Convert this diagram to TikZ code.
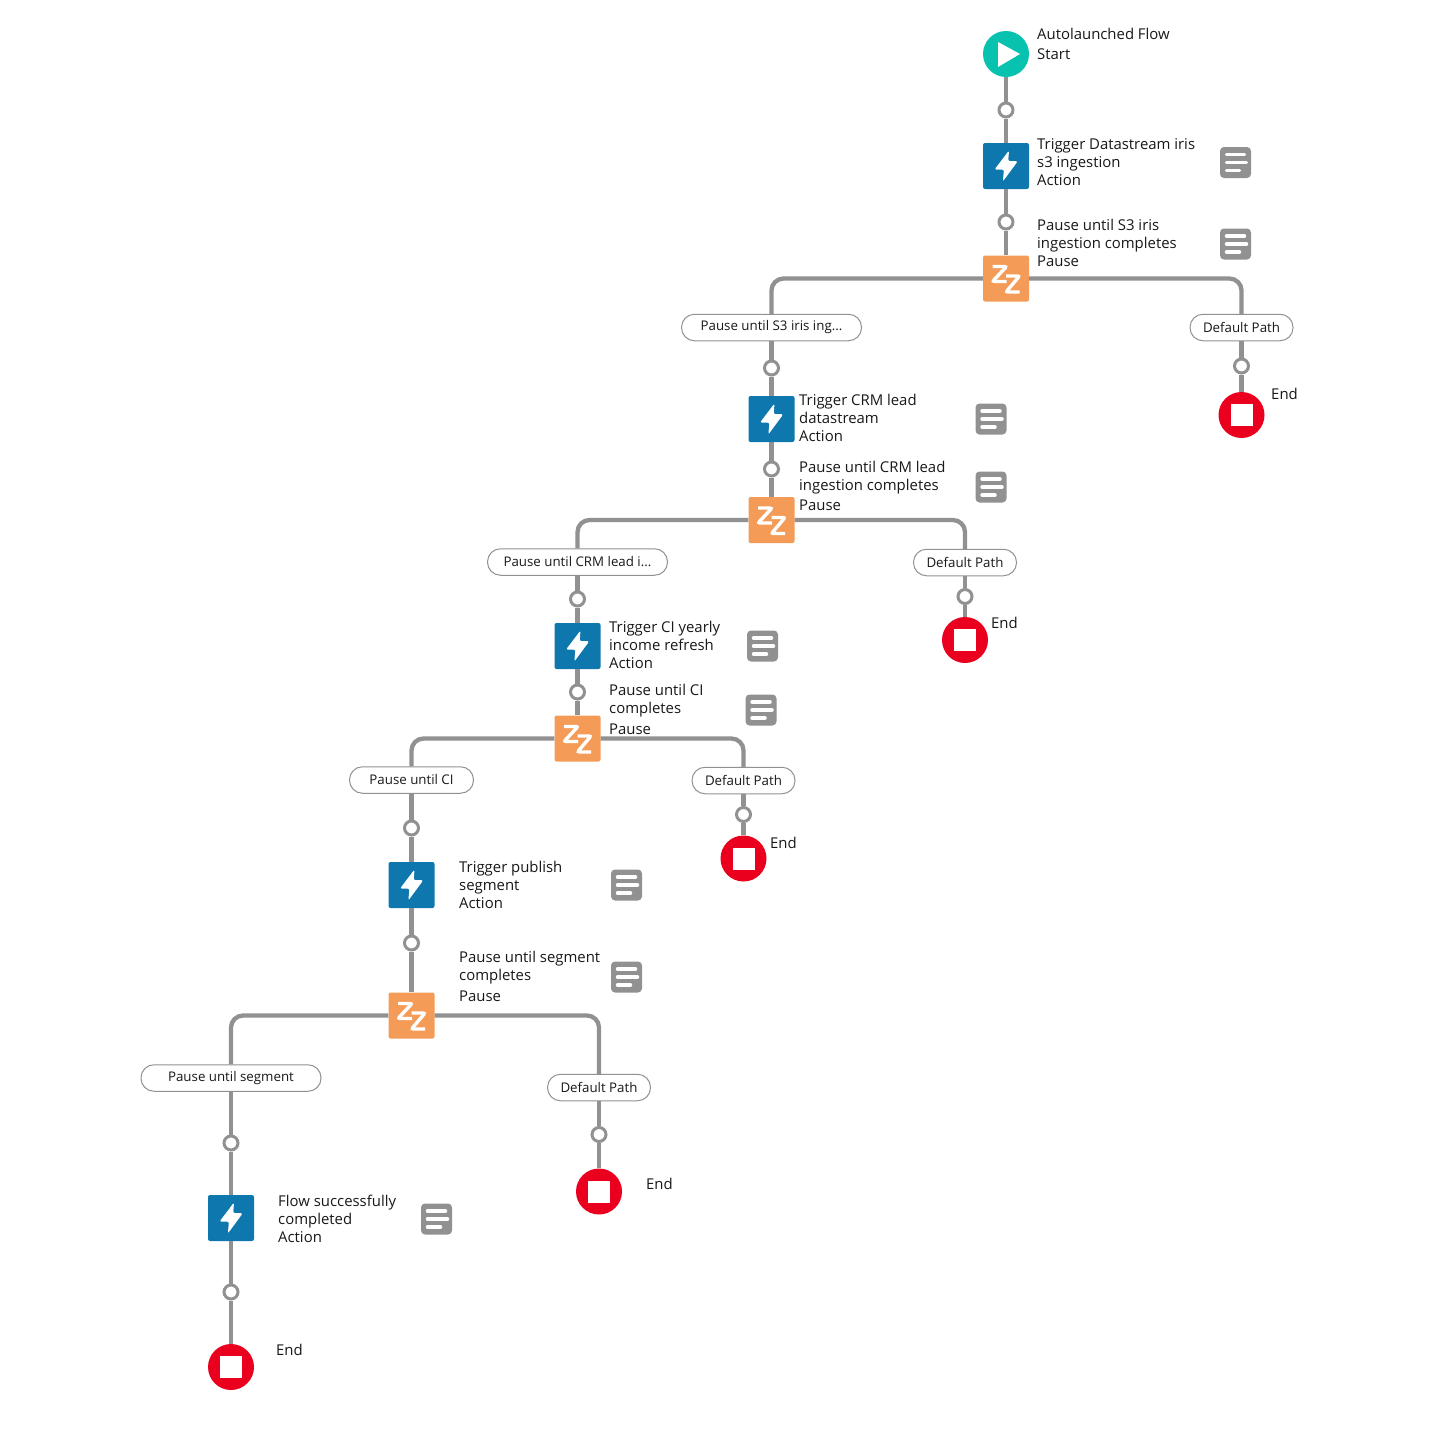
\documentclass[tikz,border=0pt]{standalone}
\usepackage{fontspec}
\setmainfont{Open Sans}
\usepackage{xcolor}
\definecolor{flowline}{HTML}{919191}
\definecolor{flowteal}{HTML}{06C2AE}
\definecolor{flowblue}{HTML}{0E78AE}
\definecolor{floworange}{HTML}{F59B58}
\definecolor{flowred}{HTML}{EA001E}
\definecolor{flowtext}{HTML}{181818}
\tikzset{
    link/.style={line width=4.3pt, draw=flowline}, % all the grey connectors
    elbow/.style={link, rounded corners=12pt, to path={-| (\tikztotarget)}},
    addpoint/.style={circle, draw=flowline, line width=3pt, fill=white, inner sep=0pt, minimum size=14pt},
    startdot/.style={circle, fill=flowteal, inner sep=0pt, minimum size=46pt, path picture={
        \fill[white, shift={(path picture bounding box.center)}] (-8,-12) -- (14,0) -- (-8,13) -- cycle;}},
    enddot/.style={circle, fill=flowred, inner sep=0pt, minimum size=46pt, path picture={
        \fill[white, shift={(path picture bounding box.center)}] (-11,-11) rectangle (11,11);}},
    actionbox/.style={rectangle, rounded corners=2pt, fill=flowblue, inner sep=0pt, minimum size=46pt, path picture={
        \fill[white, shift={(path picture bounding box.center)}] (3,-15.5) -- (-11.5,3.6) -- (-2,3.6) -- (-3.2,15.5) -- (11.8,-4.8) -- (2.2,-4.8) -- cycle;}},
    pausebox/.style={rectangle, rounded corners=2pt, fill=floworange, inner sep=0pt, minimum size=46pt, path picture={
        \draw[white, line width=3.4pt, shift={(path picture bounding box.center)}] (-13.5,-12) -- (0.5,-12) -- (-13.5,3) -- (0.5,3);
        \draw[white, line width=3.4pt, shift={(path picture bounding box.center)}] (0,-2.5) -- (13.5,-2.5) -- (0,13.5) -- (13.5,13.5);}},
    notebox/.style={rectangle, rounded corners=4pt, fill=flowline, inner sep=0pt, minimum size=31pt, path picture={
        \draw[white, line width=3.5pt, line cap=round, shift={(path picture bounding box.center)}]
            (-9,-8) -- (9,-8) (-9,0) -- (11,0) (-9,8) -- (4,8);}},
    pathpill/.style={rectangle, rounded corners=13pt, draw=flowline, line width=1pt, fill=white, inner sep=0pt,
        minimum height=26.5pt, text=flowtext, font=\fontsize{13.3}{16}\selectfont},
    steptext/.style={anchor=west, align=left, inner sep=0pt, yshift=-0.2pt, text=flowtext, font=\fontsize{14.9}{18}\selectfont},
}

\begin{document}
\begin{tikzpicture}[x=1pt, y=-1pt]
    \useasboundingbox (0,0) rectangle (1456,1456);

    % first column
    \node[startdot] (start) at (1006,54) {};
    \node[addpoint] (add1) at (1006,110) {};
    \node[actionbox] (iris) at (1006,166) {};
    \node[addpoint] (add2) at (1006,222) {};
    \node[pausebox] (pauseiris) at (1006,278.5) {};
    \node[pathpill, minimum width=180pt] (pilliris) at (771.5,327.5) {Pause until S3 iris ing...};
    \node[pathpill, minimum width=103pt] (pilldef1) at (1241.5,327.5) {Default Path};
    \node[addpoint] (adddef1) at (1241.5,366) {};
    \node[enddot] (end1) at (1241.5,415) {};

    % second column
    \node[addpoint] (add3) at (771.5,368) {};
    \node[actionbox] (crm) at (771.5,419) {};
    \node[addpoint] (add4) at (771.5,469) {};
    \node[pausebox] (pausecrm) at (771.5,520) {};
    \node[pathpill, minimum width=180pt] (pillcrm) at (577.5,562) {Pause until CRM lead i...};
    \node[pathpill, minimum width=103pt] (pilldef2) at (965,562.5) {Default Path};
    \node[addpoint] (adddef2) at (965,596.5) {};
    \node[enddot] (end2) at (965,640) {};

    % third column
    \node[addpoint] (add5) at (577.5,599) {};
    \node[actionbox] (ci) at (577.5,646) {};
    \node[addpoint] (add6) at (577.5,692) {};
    \node[pausebox] (pauseci) at (577.5,738.5) {};
    \node[pathpill, minimum width=124pt] (pillci) at (411.5,780) {Pause until CI};
    \node[pathpill, minimum width=103pt] (pilldef3) at (743.5,780.5) {Default Path};
    \node[addpoint] (adddef3) at (743.5,814.5) {};
    \node[enddot] (end3) at (743.5,858.5) {};

    % fourth column
    \node[addpoint] (add7) at (411.5,828) {};
    \node[actionbox] (segment) at (411.5,885) {};
    \node[addpoint] (add8) at (411.5,943) {};
    \node[pausebox] (pausesegment) at (411.5,1015.5) {};
    \node[pathpill, minimum width=180pt] (pillsegment) at (231,1078) {Pause until segment};
    \node[pathpill, minimum width=103pt] (pilldef4) at (599,1087.5) {Default Path};
    \node[addpoint] (adddef4) at (599,1134.5) {};
    \node[enddot] (end4) at (599,1191.5) {};

    % last column
    \node[addpoint] (add9) at (231,1143) {};
    \node[actionbox] (done) at (231,1218) {};
    \node[addpoint] (add10) at (231,1292) {};
    \node[enddot] (end5) at (231,1367) {};

    % texts
    \node[steptext] (tstart) at (1037,44) {Autolaunched Flow\\[2pt]Start};
    \node[steptext] (tiris) at (1037,161.5) {Trigger Datastream iris\\s3 ingestion\\Action};
    \node[steptext] (tpauseiris) at (1037,243) {Pause until S3 iris\\ingestion completes\\Pause};
    \node[steptext] (tcrm) at (799,418) {Trigger CRM lead\\datastream\\Action};
    \node[steptext] (tpausecrm) at (799,486) {Pause until CRM lead\\ingestion completes\\[2pt]Pause};
    \node[steptext] (tci) at (609,645) {Trigger CI yearly\\income refresh\\Action};
    \node[steptext] (tpauseci) at (609,709.5) {Pause until CI\\completes\\[3pt]Pause};
    \node[steptext] (tsegment) at (459,884.5) {Trigger publish\\segment\\Action};
    \node[steptext] (tpausesegment) at (459,976) {Pause until segment\\completes\\[3pt]Pause};
    \node[steptext] (tdone) at (278,1218.5) {Flow successfully\\completed\\Action};
    \node[steptext] (tend1) at (1271,394) {End};
    \node[steptext] (tend2) at (991,623) {End};
    \node[steptext] (tend3) at (770,843) {End};
    \node[steptext] (tend4) at (646,1184) {End};
    \node[steptext] (tend5) at (276,1350) {End};

    % notes
    \node[notebox] (note1) at (1235.5,162.5) {};
    \node[notebox] (note2) at (1235.5,244) {};
    \node[notebox] (note3) at (991,419) {};
    \node[notebox] (note4) at (991,487) {};
    \node[notebox] (note5) at (762.5,646) {};
    \node[notebox] (note6) at (761,710) {};
    \node[notebox] (note7) at (626.5,885) {};
    \node[notebox] (note8) at (626.5,977) {};
    \node[notebox] (note9) at (436.5,1219) {};

    \path[link]
        (start) edge (add1)
        (add1) edge (iris)
        (iris) edge (add2)
        (add2) edge (pauseiris)
        (pilliris) edge (add3)
        (add3) edge (crm)
        (crm) edge (add4)
        (add4) edge (pausecrm)
        (pillcrm) edge (add5)
        (add5) edge (ci)
        (ci) edge (add6)
        (add6) edge (pauseci)
        (pillci) edge (add7)
        (add7) edge (segment)
        (segment) edge (add8)
        (add8) edge (pausesegment)
        (pillsegment) edge (add9)
        (add9) edge (done)
        (done) edge (add10)
        (add10) edge (end5)
        (pilldef1) edge (adddef1)
        (adddef1) edge (end1)
        (pilldef2) edge (adddef2)
        (adddef2) edge (end2)
        (pilldef3) edge (adddef3)
        (adddef3) edge (end3)
        (pilldef4) edge (adddef4)
        (adddef4) edge (end4);

    \path
        (pauseiris) edge[elbow] (pilliris)
        (pauseiris) edge[elbow] (pilldef1)
        (pausecrm) edge[elbow] (pillcrm)
        (pausecrm) edge[elbow] (pilldef2)
        (pauseci) edge[elbow] (pillci)
        (pauseci) edge[elbow] (pilldef3)
        (pausesegment) edge[elbow] (pillsegment)
        (pausesegment) edge[elbow] (pilldef4);
\end{tikzpicture}
\end{document}
